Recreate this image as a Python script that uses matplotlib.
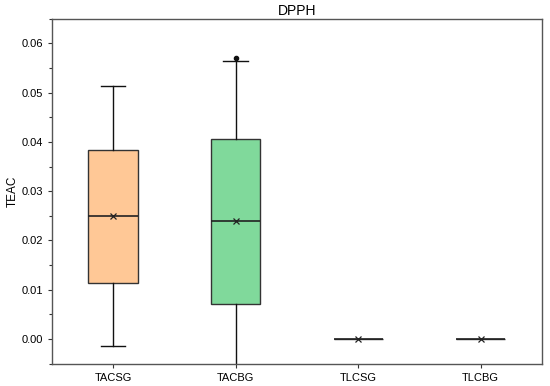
import matplotlib
matplotlib.use("Agg")
import matplotlib.pyplot as plt
from matplotlib.ticker import MultipleLocator

plt.rcParams['font.family'] = ['Liberation Sans', 'DejaVu Sans']

categories = ["TACSG", "TACBG", "TLCSG", "TLCBG"]
whisker_low = [-0.0015, -0.0080, 0.0, 0.0]
q1 = [0.0114, 0.0072, 0.0, 0.0]
median = [0.0249, 0.0239, 0.0, 0.0]
q3 = [0.0383, 0.0405, 0.0, 0.0]
whisker_high = [0.0513, 0.0565, 0.0, 0.0]
means = [0.0250, 0.0240, 0.0, 0.0]
outliers = [[], [0.0570], [], []]
colors = ["#FFC896", "#80D99B", "#FFFFFF", "#FFFFFF"]

stats = []
for i, c in enumerate(categories):
    stats.append(dict(label=c, whislo=whisker_low[i], q1=q1[i], med=median[i],
                      q3=q3[i], whishi=whisker_high[i], mean=means[i], fliers=outliers[i]))

fig = plt.figure(figsize=(5.5, 3.86), dpi=100)
ax = fig.add_axes([0.094, 0.058, 0.8915, 0.8935])

positions = list(range(1, len(categories) + 1))
bp = ax.bxp(stats, positions=positions, widths=0.4, patch_artist=True,
            showmeans=True, showfliers=True,
            boxprops=dict(edgecolor="#333333", linewidth=1.0),
            medianprops=dict(color="#222222", linewidth=1.2),
            whiskerprops=dict(color="#111111", linewidth=1.0),
            capprops=dict(color="#111111", linewidth=1.0),
            capwidths=0.2,
            meanprops=dict(marker="x", markeredgecolor="#222222", markersize=4, markeredgewidth=0.9),
            flierprops=dict(marker="o", markerfacecolor="#111111", markeredgecolor="#111111", markersize=3))
for patch, col in zip(bp["boxes"], colors):
    patch.set_facecolor(col)
# zero-spread groups: hide caps so only a flat line shows
for i in (2, 3):
    bp["caps"][2 * i].set_visible(False)
    bp["caps"][2 * i + 1].set_visible(False)

ax.set_xlim(0.5, 4.5)
ax.set_ylim(-0.005, 0.065)
ax.set_xticks(positions)
ax.set_xticklabels(categories)
ax.yaxis.set_major_locator(MultipleLocator(0.01))
ax.yaxis.set_minor_locator(MultipleLocator(0.005))
ax.yaxis.set_major_formatter(matplotlib.ticker.FormatStrFormatter("%.2f"))
ax.tick_params(axis="both", labelsize=8, color="#333333", direction="out", length=3, width=0.8)
ax.tick_params(axis="y", which="minor", length=2, width=0.8, color="#333333")
for s in ax.spines.values():
    s.set_color("#555555")
    s.set_linewidth(1.0)
ax.set_title("DPPH", fontsize=10, pad=3)
ax.set_ylabel("TEAC", fontsize=8.5, labelpad=2)

fig.savefig("out.png", dpi=100)
